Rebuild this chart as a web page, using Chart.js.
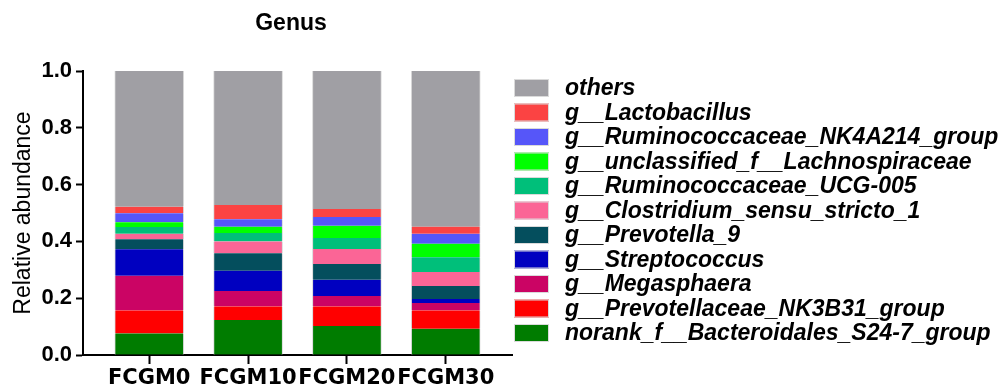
<!DOCTYPE html>
<html>
<head>
<meta charset="utf-8">
<title>Genus</title>
<script src="https://cdn.jsdelivr.net/npm/chart.js@4"></script>
<style>
  html, body { margin: 0; padding: 0; background: #ffffff; }
  #wrap { width: 998px; height: 392px; position: relative; }
</style>
</head>
<body>
<div id="wrap"><canvas id="genusChart" width="998" height="392"></canvas></div>
<script>
// Sample groups
const groups = ['FCGM0', 'FCGM10', 'FCGM20', 'FCGM30'];

// Relative abundance of each genus per group (bottom of stack first)
const noranBacteroidalesS247 = [0.076, 0.123, 0.102, 0.092];
const prevotellaceaeNK3B31   = [0.081, 0.048, 0.069, 0.065];
const megasphaera            = [0.122, 0.054, 0.037, 0.026];
const streptococcus          = [0.093, 0.072, 0.057, 0.014];
const prevotella9            = [0.036, 0.061, 0.055, 0.046];
const clostridiumSS1         = [0.019, 0.042, 0.053, 0.049];
const ruminococcaceaeUCG005  = [0.024, 0.030, 0.039, 0.052];
const unclassLachnospiraceae = [0.016, 0.022, 0.043, 0.048];
const ruminococcaceaeNK4A214 = [0.032, 0.026, 0.031, 0.035];
const lactobacillus          = [0.023, 0.050, 0.028, 0.025];
const others                 = [0.478, 0.472, 0.486, 0.548];

// Y axis tick values
const yTicks = [0, 0.2, 0.4, 0.6, 0.8, 1.0];

const seriesNames = [
  'norank_f__Bacteroidales_S24-7_group',
  'g__Prevotellaceae_NK3B31_group',
  'g__Megasphaera',
  'g__Streptococcus',
  'g__Prevotella_9',
  'g__Clostridium_sensu_stricto_1',
  'g__Ruminococcaceae_UCG-005',
  'g__unclassified_f__Lachnospiraceae',
  'g__Ruminococcaceae_NK4A214_group',
  'g__Lactobacillus',
  'others'
];
const seriesValues = [
  noranBacteroidalesS247, prevotellaceaeNK3B31, megasphaera, streptococcus,
  prevotella9, clostridiumSS1, ruminococcaceaeUCG005, unclassLachnospiraceae,
  ruminococcaceaeNK4A214, lactobacillus, others
];
const seriesColors = [
  '#007C00', '#FF0000', '#CB0464', '#0000C0', '#044E5D', '#FB6596',
  '#00BF7A', '#00FF00', '#5656F9', '#FB4343', '#A09FA4'
];

const datasets = seriesNames.map((name, s) => ({
  label: name,
  data: seriesValues[s].map((v, i) => ({ x: i, y: v })),
  backgroundColor: seriesColors[s],
  borderColor: '#DADADA',
  borderWidth: { left: 1, right: 1, top: 0, bottom: 0 },
  borderSkipped: false,
  barThickness: 69
}));

const SANS = "'Liberation Sans', Arial, sans-serif";

// Chart heading and the right-hand key, drawn on the canvas
const annotations = {
  id: 'genusAnnotations',
  afterDraw(chart) {
    const ctx = chart.ctx;
    ctx.save();
    ctx.fillStyle = '#000';
    ctx.font = 'bold 23px ' + SANS;
    ctx.textAlign = 'center';
    ctx.textBaseline = 'middle';
    ctx.fillText('Genus', 291, 24);

    const sets = chart.data.datasets.slice().reverse();
    ctx.font = 'italic bold 23px ' + SANS;
    ctx.textAlign = 'left';
    sets.forEach((ds, i) => {
      const cy = 88 + i * 24.5;
      ctx.fillStyle = ds.backgroundColor;
      ctx.fillRect(514, cy - 9, 35, 18);
      ctx.strokeStyle = '#DADADA';
      ctx.lineWidth = 1;
      ctx.strokeRect(514.5, cy - 8.5, 34, 17);
      ctx.fillStyle = '#000';
      ctx.fillText(ds.label, 565, cy + 1);
    });
    ctx.restore();
  }
};

new Chart(document.getElementById('genusChart'), {
  type: 'bar',
  data: { datasets },
  plugins: [annotations],
  options: {
    responsive: false,
    animation: false,
    layout: { padding: { left: 0, right: 486, top: 71, bottom: 0 } },
    plugins: {
      legend: { display: false },
      title: { display: false },
      tooltip: { enabled: false }
    },
    scales: {
      x: {
        type: 'linear',
        stacked: true,
        min: -0.67,
        max: 3.67,
        offset: false,
        afterBuildTicks(scale) {
          scale.ticks = groups.map((g, i) => ({ value: i }));
        },
        afterFit(scale) {
          scale.height = 37;
          scale.paddingLeft = 0;
          scale.paddingRight = 0;
        },
        ticks: {
          autoSkip: false,
          maxRotation: 0,
          minRotation: 0,
          padding: 2,
          color: '#000',
          font: { family: "'DejaVu Sans', sans-serif", size: 21, weight: 'bold' },
          callback: (v) => groups[v]
        },
        grid: {
          offset: false,
          drawOnChartArea: false,
          drawTicks: true,
          tickLength: 9,
          tickWidth: 2,
          tickColor: '#000'
        },
        border: { display: true, color: '#000', width: 2 }
      },
      y: {
        stacked: true,
        min: 0,
        max: 1,
        afterBuildTicks(scale) {
          scale.ticks = yTicks.map(v => ({ value: v }));
        },
        afterFit(scale) {
          scale.width = 83;
          scale.paddingTop = 0;
          scale.paddingBottom = 0;
        },
        ticks: {
          padding: 4,
          color: '#000',
          font: { family: SANS, size: 22, weight: 'bold' },
          callback: (v) => Number(v).toFixed(1)
        },
        grid: {
          drawOnChartArea: false,
          drawTicks: true,
          tickLength: 7,
          tickWidth: 2,
          tickColor: '#000'
        },
        border: { display: true, color: '#000', width: 2 },
        title: {
          display: true,
          text: 'Relative abundance',
          color: '#000',
          font: { family: SANS, size: 23, weight: 'normal' },
          padding: { top: 10, bottom: 0 }
        }
      }
    }
  }
});
</script>
</body>
</html>
